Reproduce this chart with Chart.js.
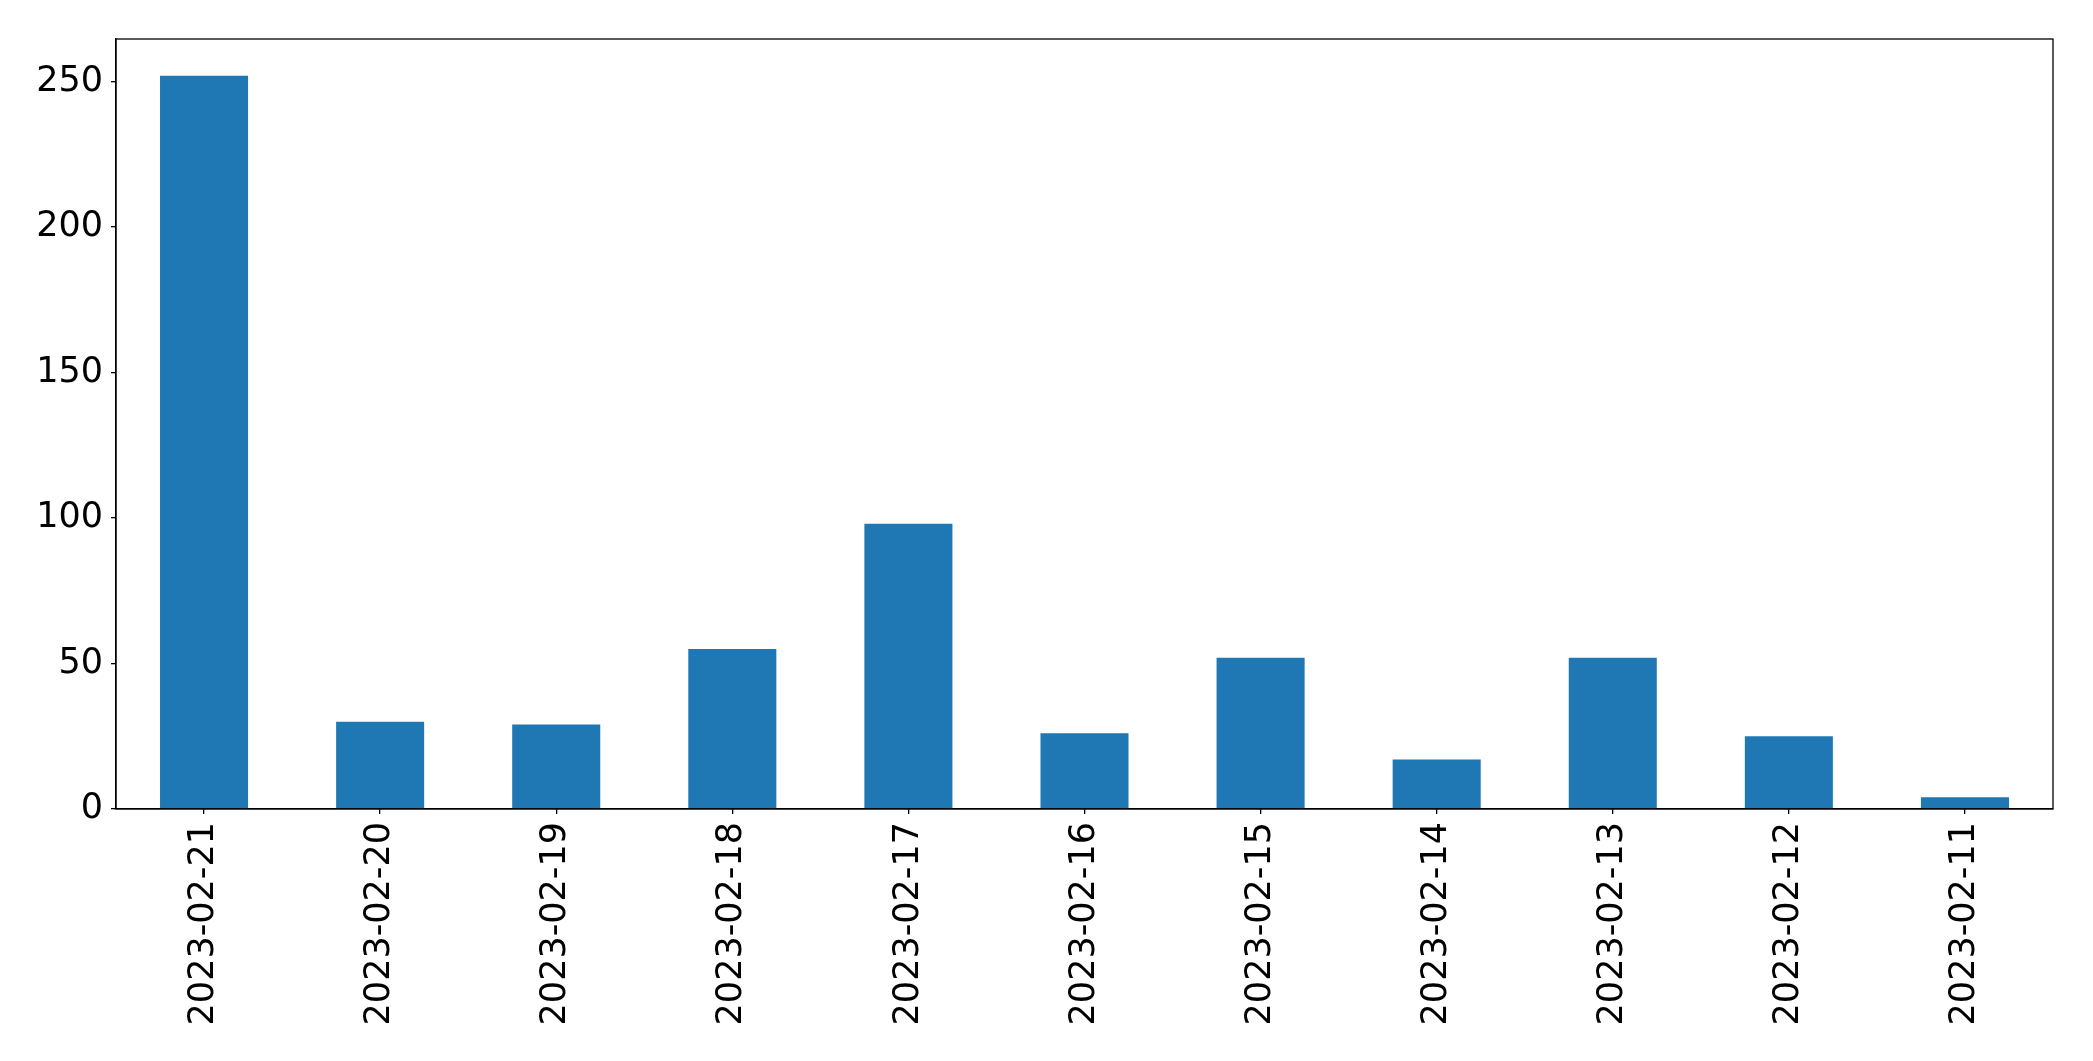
<!DOCTYPE html>
<html>
<head>
<meta charset="utf-8">
<script src="https://cdn.jsdelivr.net/npm/chart.js@4"></script>
<style>
html,body{margin:0;padding:0;background:#fff;}
#wrap{width:2093px;height:1061px;position:relative;}
</style>
</head>
<body>
<div id="wrap"><canvas id="c" width="2093" height="1061"></canvas></div>
<script>
const categories = ["2023-02-21","2023-02-20","2023-02-19","2023-02-18","2023-02-17","2023-02-16","2023-02-15","2023-02-14","2023-02-13","2023-02-12","2023-02-11"];
const counts = [252, 30, 29, 55, 98, 26, 52, 17, 52, 25, 4];
const yTicks = [0, 50, 100, 150, 200, 250];

const FONT = "'DejaVu Sans', sans-serif";
const yMax = Math.max(...counts) * 1.05;

const framePlugin = {
  id: 'frame',
  afterDraw(chart) {
    const {ctx, chartArea: a} = chart;
    ctx.save();
    ctx.strokeStyle = '#000';
    ctx.lineWidth = 1.3;
    ctx.strokeRect(a.left, a.top, a.right - a.left, a.bottom - a.top);
    ctx.restore();
  }
};

new Chart(document.getElementById('c'), {
  type: 'bar',
  data: {
    labels: categories,
    datasets: [{
      data: counts,
      backgroundColor: '#1f77b4',
      borderWidth: 0,
      barPercentage: 0.5,
      categoryPercentage: 1.0
    }]
  },
  options: {
    responsive: false,
    animation: false,
    devicePixelRatio: 1,
    layout: { padding: { top: 39, right: 40, left: 0, bottom: 0 } },
    plugins: { legend: { display: false }, tooltip: { enabled: false } },
    scales: {
      x: {
        type: 'category',
        offset: true,
        grid: { display: true, drawOnChartArea: false, offset: false, color: '#000', lineWidth: 1.3, tickLength: 5, tickWidth: 1.3 },
        border: { display: true, color: '#000', width: 1.3 },
        ticks: { color: '#000', font: { family: FONT, size: 35 }, minRotation: 90, maxRotation: 90, padding: 8, autoSkip: false },
        afterFit(s) { s.height = 252; }
      },
      y: {
        min: 0,
        max: yMax,
        grid: { display: true, drawOnChartArea: false, color: '#000', lineWidth: 1.3, tickLength: 5, tickWidth: 1.3 },
        border: { display: true, color: '#000', width: 1.3 },
        ticks: { color: '#000', font: { family: FONT, size: 35 }, padding: 8, includeBounds: false },
        afterBuildTicks(s) { s.ticks = yTicks.map(v => ({ value: v })); },
        afterFit(s) { s.width = 116; }
      }
    }
  },
  plugins: [framePlugin]
});
</script>
</body>
</html>
